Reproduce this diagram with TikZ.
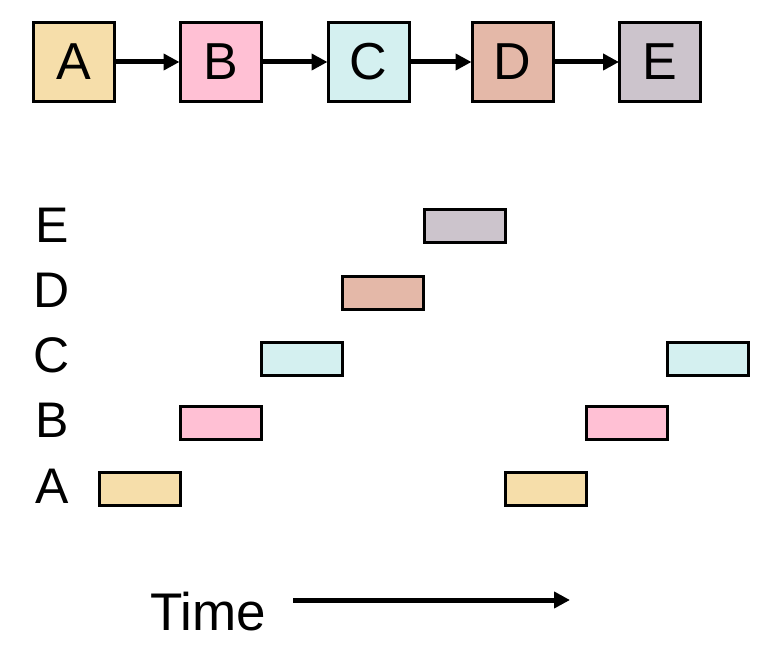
\documentclass[tikz,border=0pt]{standalone}
\usepackage{fontspec}
\setmainfont{Liberation Sans}
\usetikzlibrary{arrows.meta}
\definecolor{cA}{RGB}{246,222,170}
\definecolor{cB}{RGB}{255,192,212}
\definecolor{cC}{RGB}{212,240,240}
\definecolor{cD}{RGB}{228,184,168}
\definecolor{cE}{RGB}{204,196,204}
\tikzset{
  stage/.style={draw=black, line width=3pt, minimum width=81pt, minimum height=79pt, inner sep=0pt,
    font=\fontsize{52}{52}\selectfont},
  bar/.style={draw=black, line width=3pt, minimum width=81pt, minimum height=33pt, inner sep=0pt},
  lbl/.style={font=\fontsize{50}{50}\selectfont, inner sep=0pt, anchor=center},
  flow/.style={line width=5pt, -{Triangle[length=16pt,width=16pt]}, shorten >=-1pt},
}
\begin{document}
\begin{tikzpicture}[x=1pt,y=-1pt]
\useasboundingbox (0,0) rectangle (772,652);
% top pipeline stages
\node[stage, fill=cA] (sA) at (74,62) {A};
\node[stage, fill=cB] (sB) at (220.5,62) {B};
\node[stage, fill=cC] (sC) at (368.5,62) {C};
\node[stage, fill=cD] (sD) at (512.5,62) {D};
\node[stage, fill=cE] (sE) at (660,62) {E};
\draw[flow] (sA) -- (sB);
\draw[flow] (sB) -- (sC);
\draw[flow] (sC) -- (sD);
\draw[flow] (sD) -- (sE);
% row labels
\node[lbl] (lE) at (52,225) {E};
\node[lbl] (lD) at (52,290) {D};
\node[lbl] (lC) at (52,355) {C};
\node[lbl] (lB) at (52,420) {B};
\node[lbl] (lA) at (52,486) {A};
% timeline bars
\node[bar, fill=cE] (bE) at (465,226.5) {};
\node[bar, fill=cD] (bD) at (383,293) {};
\node[bar, fill=cC] (bC) at (301.5,359.5) {};
\node[bar, fill=cB] (bB) at (221,423) {};
\node[bar, fill=cA] (bA) at (140,489) {};
\node[bar, fill=cA] (bA2) at (546,489) {};
\node[bar, fill=cB] (bB2) at (627,423) {};
\node[bar, fill=cC] (bC2) at (708,359.5) {};
% time axis
\node[font=\fontsize{53}{53}\selectfont, inner sep=0pt] (time) at (208,612) {Time};
\coordinate (t0) at (293,600);
\coordinate (t1) at (570,600);
\draw[line width=5pt, -{Triangle[length=16pt,width=16pt]}] (t0) -- (t1);
\end{tikzpicture}
\end{document}
